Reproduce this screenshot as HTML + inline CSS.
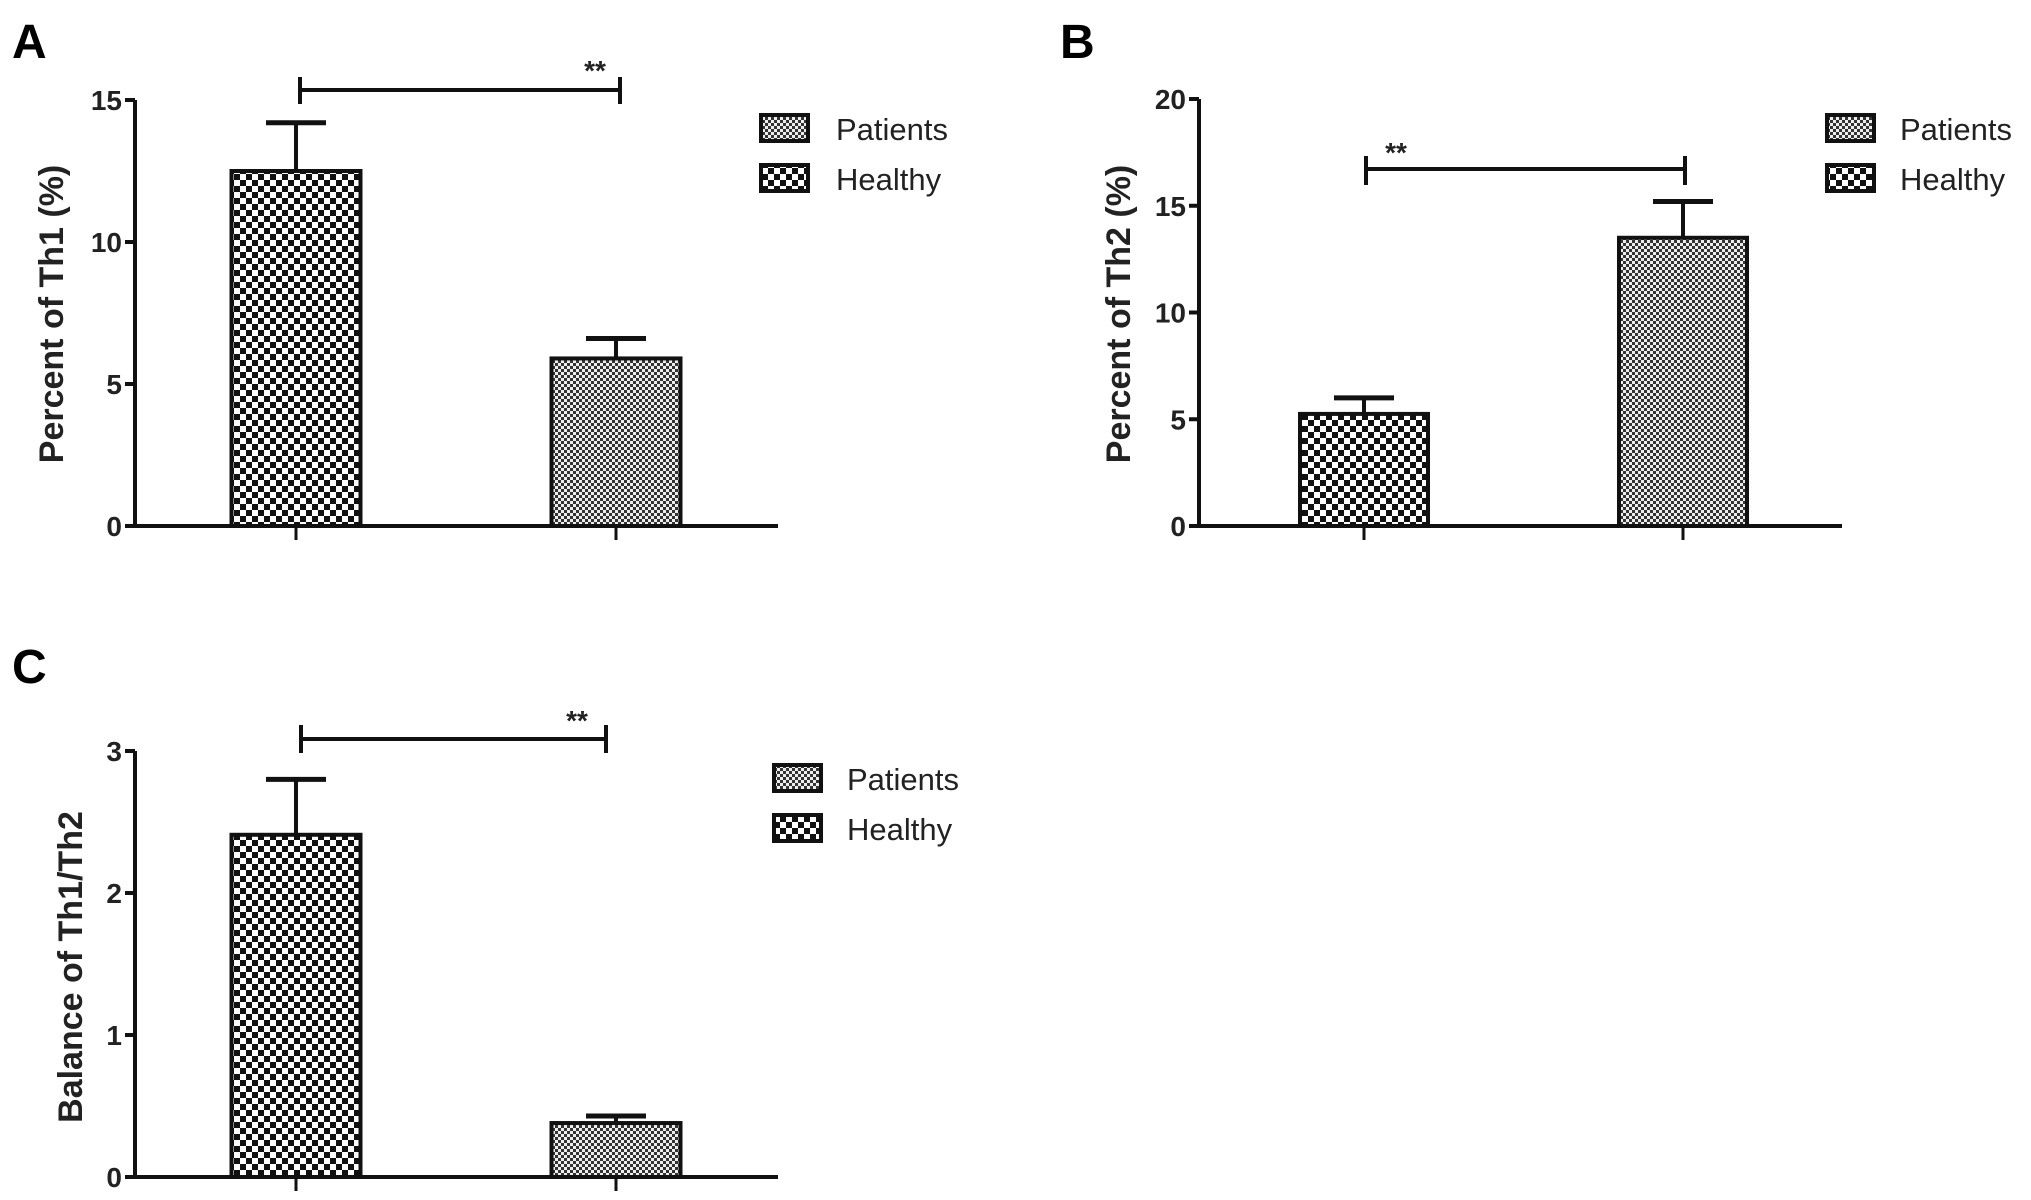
<!DOCTYPE html>
<html><head><meta charset="utf-8"><style>
html,body{margin:0;padding:0;background:#fff;}
svg{display:block;font-family:"Liberation Sans",sans-serif;}
</style></head><body>
<svg id="fig" width="2031" height="1200" viewBox="0 0 2031 1200">
<defs>
<pattern id="pHealthy" width="12" height="12" patternUnits="userSpaceOnUse">
<rect width="12" height="12" fill="#fff"/><rect width="6" height="6" fill="#111"/><rect x="6" y="6" width="6" height="6" fill="#111"/>
</pattern>
<pattern id="pPatients" width="6" height="6" patternUnits="userSpaceOnUse">
<rect width="6" height="6" fill="#eee"/><rect width="3" height="3" fill="#333"/><rect x="3" y="3" width="3" height="3" fill="#333"/>
</pattern>
</defs>
</svg>
<script>
const panelLetters = ["A","B","C"];
const yTitles = ["Percent of Th1 (%)","Percent of Th2 (%)","Balance of Th1/Th2"];
const yMaxes = [15,20,3];
const tickA = [0,5,10,15];
const tickB = [0,5,10,15,20];
const tickC = [0,1,2,3];
const meansA = [12.5,5.9];
const errsA = [14.2,6.6];
const meansB = [5.25,13.5];
const errsB = [6.0,15.2];
const meansC = [2.41,0.38];
const errsC = [2.80,0.43];
const fillsA = ["pHealthy","pPatients"];
const fillsB = ["pHealthy","pPatients"];
const fillsC = ["pHealthy","pPatients"];
const legendLabels = ["Patients","Healthy"];

const NS="http://www.w3.org/2000/svg";
const svg=document.getElementById('fig');
function mk(tag,attrs,parent){const e=document.createElementNS(NS,tag);for(const k in attrs)e.setAttribute(k,attrs[k]);(parent||svg).appendChild(e);return e;}

const layouts=[
 {ax:135,y0:526,yTop:100,xEnd:778,bars:[296,616],bw:129,letter:[12,58],title:[51,314],sig:{y:90,x1:300,x2:620,t1:77,t2:104,sx:595,sy:70},leg:{x:761,y:[115,165],tx:836}},
 {ax:1199,y0:526,yTop:99,xEnd:1842,bars:[1364,1683],bw:128,letter:[1060,58],title:[1118,314],sig:{y:169,x1:1366,x2:1685,t1:156,t2:185,sx:1396,sy:152},leg:{x:1827,y:[115,165],tx:1900}},
 {ax:135,y0:1177,yTop:751,xEnd:778,bars:[296,616],bw:129,letter:[12,683],title:[70,967],sig:{y:739,x1:301,x2:606,t1:725,t2:753,sx:577,sy:720},leg:{x:774,y:[765,815],tx:847}}
];
const ticksAll=[tickA,tickB,tickC], meansAll=[meansA,meansB,meansC], errsAll=[errsA,errsB,errsC], fillsAll=[fillsA,fillsB,fillsC];

layouts.forEach((L,i)=>{
 const g=mk('g',{});
 
 
 const yS=v=>L.y0-(v/yMaxes[i])*(L.y0-L.yTop);
 const lt=mk('text',{x:L.letter[0],y:L.letter[1],'font-size':48,'font-weight':'bold'},g);lt.textContent=panelLetters[i];
 
 
 const yt=mk('text',{x:0,y:0,'font-size':34,'font-weight':'bold','text-anchor':'middle',fill:'#222',transform:`translate(${L.title[0]+12},${L.title[1]}) rotate(-90)`},g);yt.textContent=yTitles[i];
 
 
 const ya=mk('line',{x1:L.ax,y1:L.yTop,x2:L.ax,y2:L.y0,stroke:'#111','stroke-width':4},g);
 
 
 ticksAll[i].forEach(t=>{
  const y=yS(t);
  mk('line',{x1:L.ax-10,y1:y,x2:L.ax,y2:y,stroke:'#111','stroke-width':4},g);
  const tl=mk('text',{x:L.ax-13,y:y+10,'font-size':28,'font-weight':'bold','text-anchor':'end',fill:'#222'},g);tl.textContent=t;
  
  
 });
 meansAll[i].forEach((m,j)=>{
  const cx=L.bars[j], top=yS(m), et=yS(errsAll[i][j]);
  mk('line',{x1:cx,y1:top,x2:cx,y2:et,stroke:'#111','stroke-width':4},g);
  mk('line',{x1:cx-30,y1:et,x2:cx+30,y2:et,stroke:'#111','stroke-width':5},g);
  const b=mk('rect',{x:cx-L.bw/2,y:top,width:L.bw,height:L.y0-top,fill:`url(#${fillsAll[i][j]})`,stroke:'#111','stroke-width':4},g);
  
  
  mk('line',{x1:cx,y1:L.y0,x2:cx,y2:L.y0+14,stroke:'#111','stroke-width':3},g);
 });
 const xa=mk('line',{x1:L.ax-10,y1:L.y0,x2:L.xEnd,y2:L.y0,stroke:'#111','stroke-width':4},g);
 
 
 const s=L.sig;
 const sg=mk('g',{stroke:'#111','stroke-width':4},g);
 
 
 mk('line',{x1:s.x1,y1:s.y,x2:s.x2,y2:s.y},sg);
 mk('line',{x1:s.x1,y1:s.t1,x2:s.x1,y2:s.t2},sg);
 mk('line',{x1:s.x2,y1:s.t1,x2:s.x2,y2:s.t2},sg);
 const st=mk('text',{x:s.sx,y:s.sy+10,'font-size':28,'font-weight':'bold','text-anchor':'middle',fill:'#222'},g);st.textContent='**';
 
 
 legendLabels.forEach((lab,k)=>{
  const y=L.leg.y[k];
  const lg=mk('g',{},g);
  
  
  mk('rect',{x:L.leg.x,y:y,width:47,height:26,fill:`url(#${k===0?'pPatients':'pHealthy'})`,stroke:'#111','stroke-width':4},lg);
  const tx=mk('text',{x:L.leg.tx,y:y+25,'font-size':31,fill:'#222'},lg);tx.textContent=lab;
 });
});
</script>
</body></html>
